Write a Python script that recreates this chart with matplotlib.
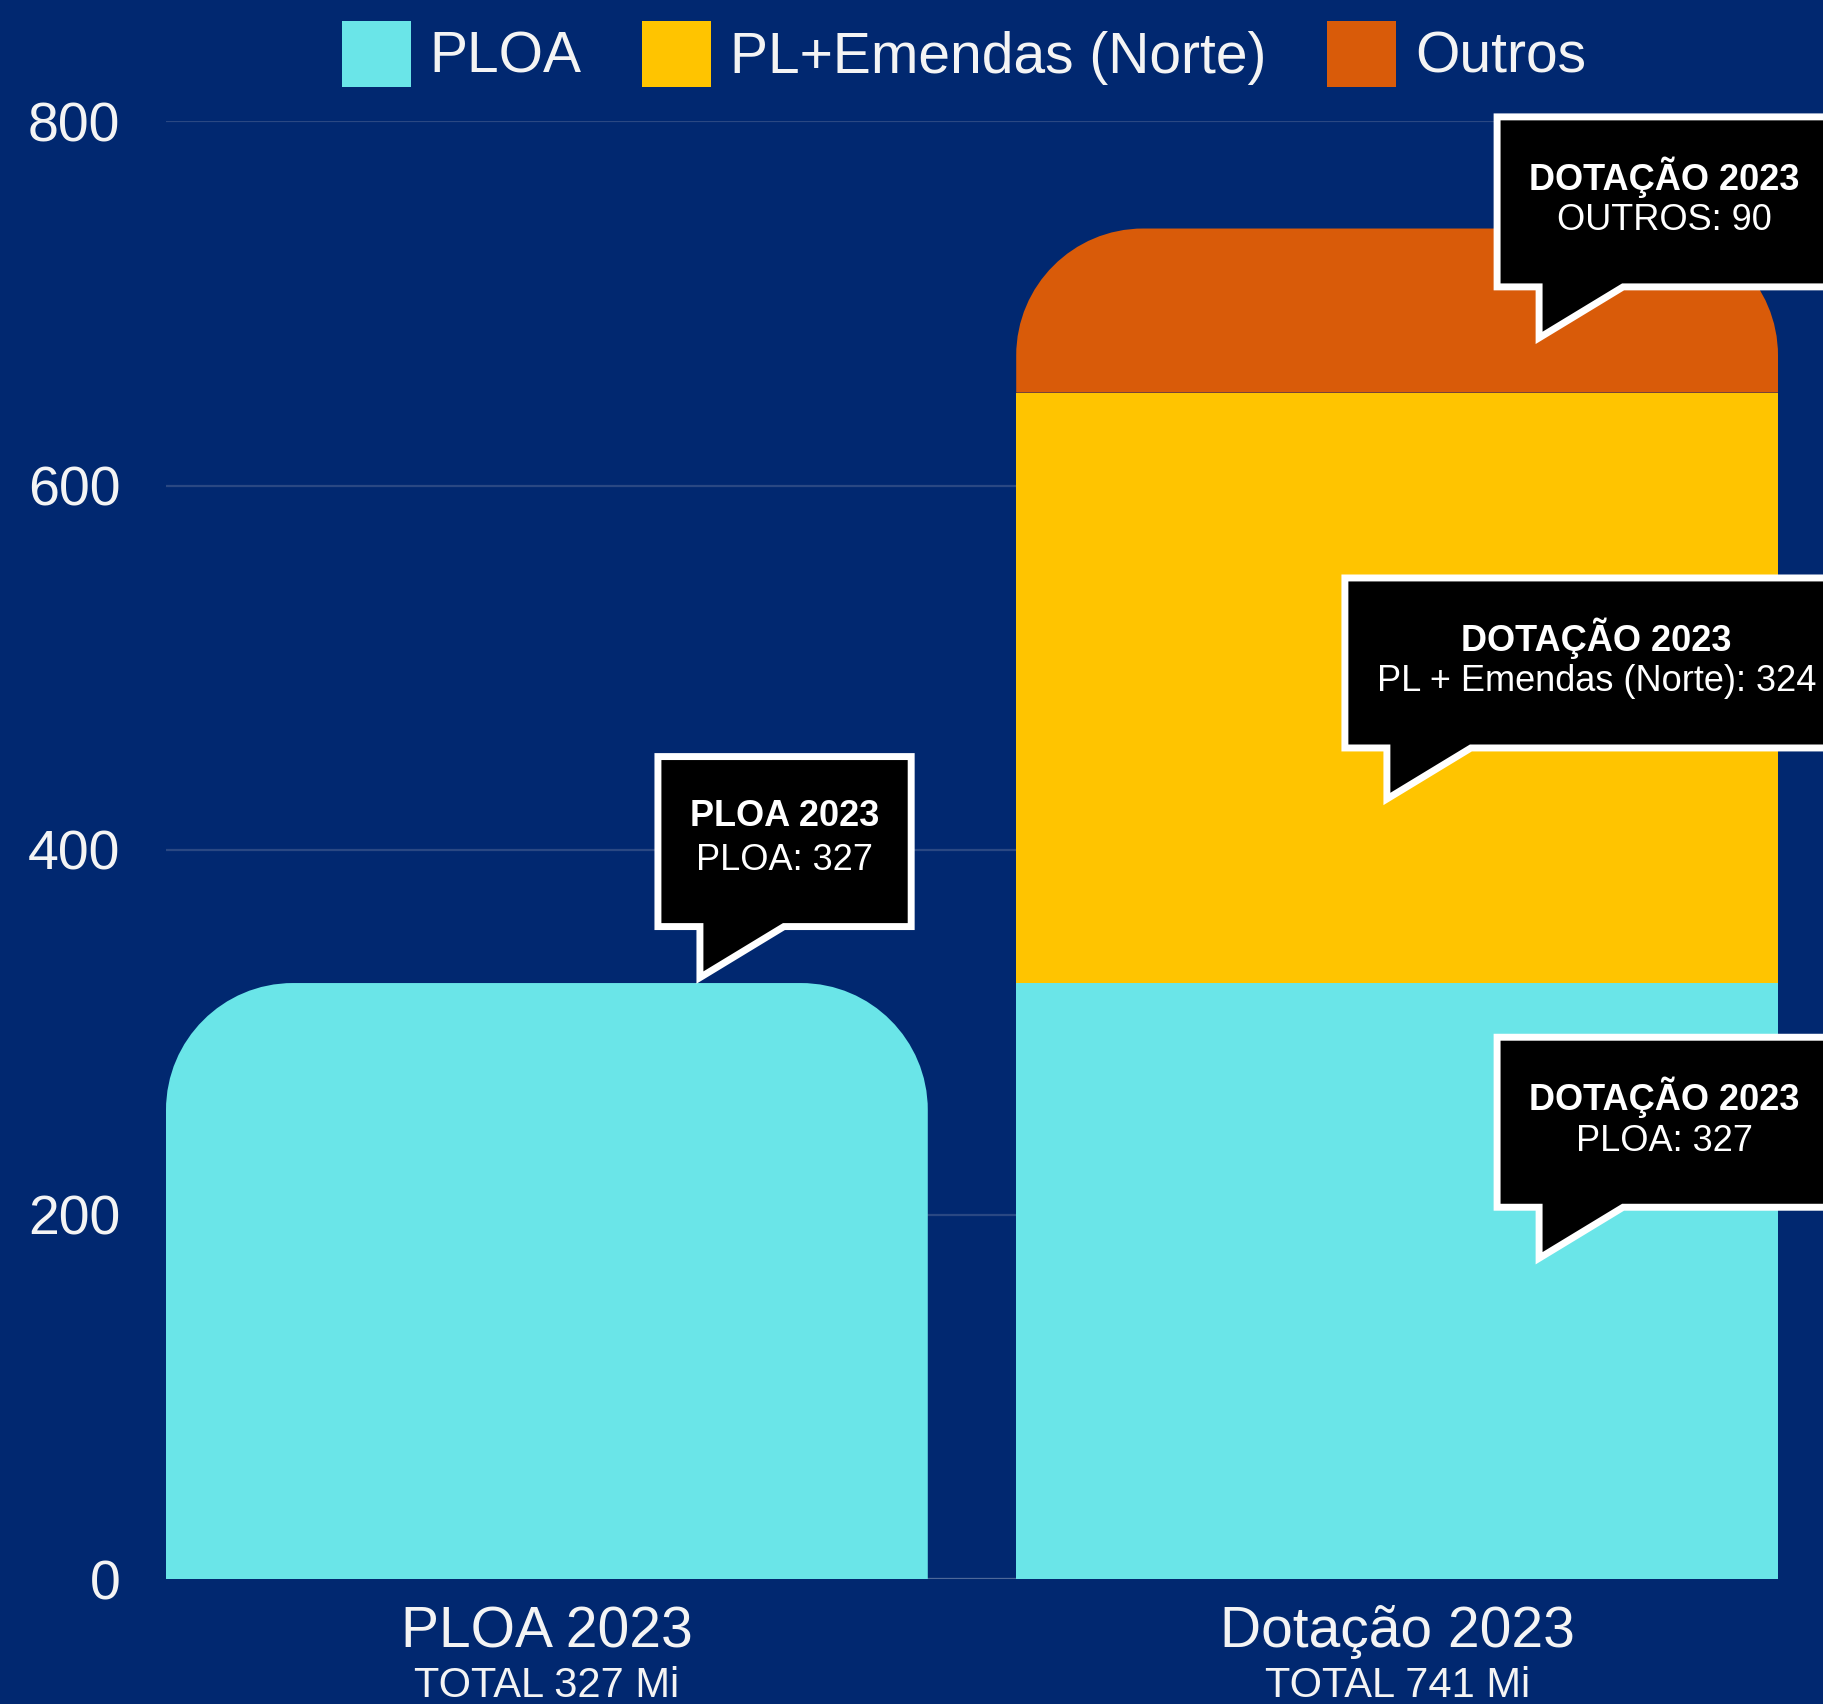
import numpy as np
import matplotlib
matplotlib.use('Agg')
import matplotlib.pyplot as plt
from matplotlib.path import Path
from matplotlib.patches import PathPatch, Patch
from matplotlib.transforms import IdentityTransform, blended_transform_factory

categories = ['PLOA 2023', 'Dotação 2023']
series_names = ['PLOA', 'PL+Emendas (Norte)', 'Outros']
ploa = [327, 327]
pl_emendas = [0, 324]
outros = [0, 90]
colors = ['#6ae5e8', '#ffc400', '#d95b09']

# callouts: bold title, body, anchor (x in category units, y in value units)
callout_titles = ['PLOA 2023', 'DOTAÇÃO 2023', 'DOTAÇÃO 2023', 'DOTAÇÃO 2023']
callout_bodies = ['PLOA: 327', 'OUTROS: 90', 'PL + Emendas (Norte): 324', 'PLOA: 327']
callout_x = [0.18, 1.167, 0.988, 1.167]
callout_y = [330, 681, 428, 176]

bg = '#012870'
plt.rcParams['font.family'] = ['Liberation Sans', 'DejaVu Sans']

fig = plt.figure(figsize=(18.24, 17.04), dpi=100, facecolor=bg)
ax = fig.add_axes([166/1824, 125/1704, 1612/1824, 1458/1704], facecolor=bg)
ax.set_xlim(-0.448, 1.448)
ax.set_ylim(0, 800)
for s in ax.spines.values():
    s.set_visible(False)
ax.set_xticks([])
ax.set_yticks([0, 200, 400, 600, 800])
ax.tick_params(axis='y', length=0, pad=33, labelsize=40, labelcolor='#f4f4f4')
ax.yaxis.grid(True, color='#2a4883', lw=1.6)
ax.set_axisbelow(True)
ax.axhline(0, color='#4d6899', lw=1.6, zorder=1)

# pixels per data unit (for circular corners)
p0 = ax.transData.transform((0, 0))
p1 = ax.transData.transform((1, 1))
ppx, ppy = p1[0] - p0[0], p1[1] - p0[1]

def bar_segment(x, bottom, height, width, color, radius_px=0):
    if height <= 0:
        return
    x0, x1 = x - width/2, x + width/2
    top = bottom + height
    rx = radius_px / ppx
    ry = min(radius_px / ppy, height)
    k = 0.5523
    if radius_px == 0:
        verts = [(x0, bottom), (x0, top), (x1, top), (x1, bottom), (x0, bottom)]
        codes = [Path.MOVETO] + [Path.LINETO]*3 + [Path.CLOSEPOLY]
    else:
        verts = [(x0, bottom), (x0, top - ry),
                 (x0, top - ry + k*ry), (x0 + rx - k*rx, top), (x0 + rx, top),
                 (x1 - rx, top),
                 (x1 - rx + k*rx, top), (x1, top - ry + k*ry), (x1, top - ry),
                 (x1, bottom), (x0, bottom)]
        codes = [Path.MOVETO, Path.LINETO,
                 Path.CURVE4, Path.CURVE4, Path.CURVE4,
                 Path.LINETO,
                 Path.CURVE4, Path.CURVE4, Path.CURVE4,
                 Path.LINETO, Path.CLOSEPOLY]
    ax.add_patch(PathPatch(Path(verts, codes), facecolor=color, edgecolor='none', zorder=2))

width = 0.896
stacks = [ploa, pl_emendas, outros]
for i in range(len(categories)):
    bottom = 0
    vals = [s[i] for s in stacks]
    last = max(j for j, v in enumerate(vals) if v > 0)
    for j, v in enumerate(vals):
        bar_segment(i, bottom, v, width, colors[j], 127 if j == last else 0)
        bottom += v

totals = [sum(s[i] for s in stacks) for i in range(len(categories))]
trans = blended_transform_factory(ax.transData, ax.transAxes)
for i, cat in enumerate(categories):
    ax.text(i, -0.0364, cat, transform=trans, ha='center', va='center',
            fontsize=41, color='#f4f4f4')
    ax.text(i, -0.0734, f'TOTAL {totals[i]} Mi', transform=trans, ha='center', va='center',
            fontsize=30, color='#f4f4f4')

handles = [Patch(facecolor=c, edgecolor='none') for c in colors]
fig.legend(handles, series_names, loc='center', bbox_to_anchor=(964/1824, 1 - 54/1704),
           ncol=3, frameon=False, fontsize=41, labelcolor='#f4f4f4',
           handlelength=1.21, handleheight=1.38, handletextpad=0.33, columnspacing=1.07,
           borderpad=0)

# callout boxes drawn in pixel space
renderer = fig.canvas.get_renderer()
ident = IdentityTransform()
for t, b, cx, cy in zip(callout_titles, callout_bodies, callout_x, callout_y):
    tx, ty = ax.transData.transform((cx, cy))
    t1 = fig.text(0, 0, t, fontsize=26, fontweight='bold', color='white',
                  ha='center', va='center', transform=ident, zorder=6)
    t2 = fig.text(0, 0, b, fontsize=26, color='white',
                  ha='center', va='center', transform=ident, zorder=6)
    w = max(t1.get_window_extent(renderer).width, t2.get_window_extent(renderer).width) + 64
    xl = tx - 42
    xr = xl + w
    yb = ty + 51
    yt = yb + 170
    verts = [(xl, yb), (tx, yb), (tx, ty), (tx + 84, yb), (xr, yb), (xr, yt), (xl, yt), (xl, yb)]
    codes = [Path.MOVETO] + [Path.LINETO]*6 + [Path.CLOSEPOLY]
    fig.patches.append(PathPatch(Path(verts, codes), facecolor='black', edgecolor='white',
                                 lw=5.0, joinstyle='miter', transform=ident, zorder=5))
    t1.set_position((xl + w/2, yt - 60))
    t2.set_position((xl + w/2, yt - 104))

fig.savefig('out.png', dpi=100, facecolor=bg)
